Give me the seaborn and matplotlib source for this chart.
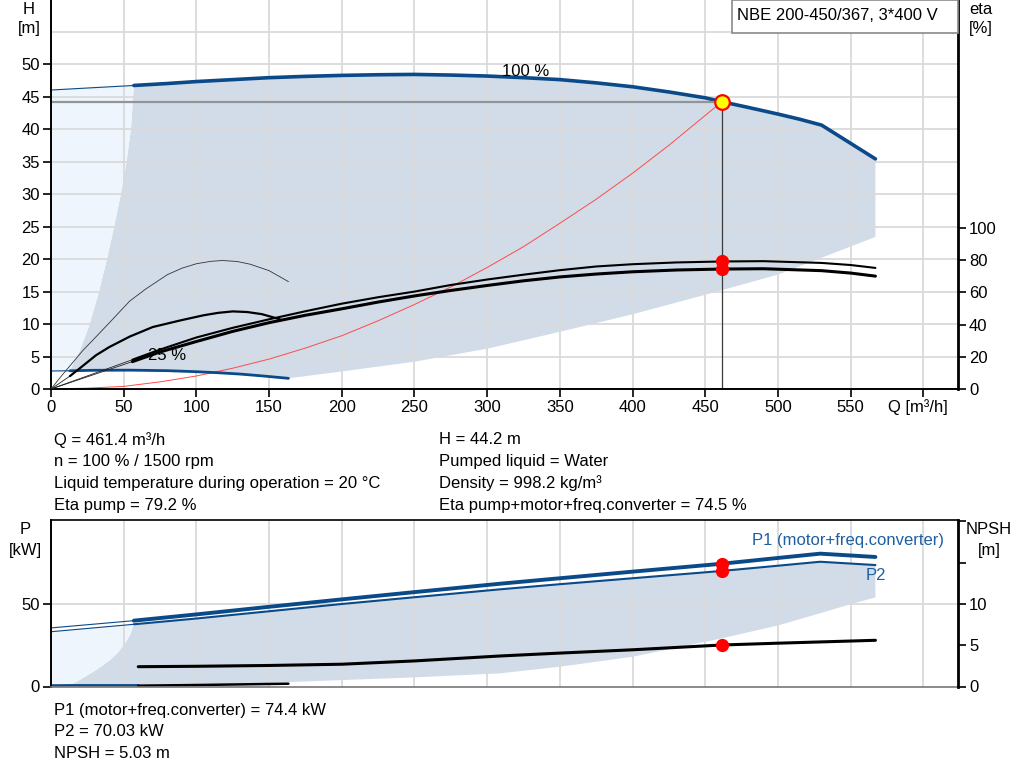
import matplotlib
matplotlib.use("Agg")
import matplotlib.pyplot as plt
import seaborn as sns
import numpy as np
from matplotlib.patches import Rectangle, Polygon

# ---------------- data ----------------
# 100 % speed pump curve H(Q)
q_h100 = [57, 80, 100, 125, 150, 175, 200, 225, 250, 275, 300, 325, 350, 375, 400,
          425, 450, 461.4, 480, 500, 515, 530, 567]
h_h100 = [46.7, 47.0, 47.3, 47.6, 47.9, 48.1, 48.25, 48.35, 48.4, 48.3, 48.15, 47.9,
          47.6, 47.1, 46.5, 45.7, 44.8, 44.2, 43.3, 42.3, 41.5, 40.6, 35.4]
q_h100_ext = [0, 57]
h_h100_ext = [46.0, 46.7]

# 25 % speed pump curve H(Q)
q_h25 = [13, 30, 54, 80, 100, 115, 130, 146, 163.3]
h_h25 = [2.8, 2.88, 2.9, 2.82, 2.66, 2.5, 2.3, 2.0, 1.64]
q_h25_ext = [0, 13]
h_h25_ext = [2.77, 2.8]

# system curve
q_sys = [0, 25, 50, 75, 100, 125, 150, 175, 200, 225, 250, 275, 300, 325, 350, 375,
         400, 425, 461.4]
h_sys = [0, 0.13, 0.4, 1.1, 2.0, 3.2, 4.6, 6.3, 8.2, 10.5, 13.0, 15.7, 18.7, 21.9,
         25.5, 29.2, 33.2, 37.5, 44.2]

# operating range lower edge and left edge (H axis)
q_low = [163.3, 200, 250, 300, 350, 400, 450, 500, 567]
h_low = [1.64, 2.7, 4.2, 6.2, 8.8, 11.5, 14.5, 17.6, 23.4]
q_left = [57, 55, 52, 47.9, 43, 38.3, 33, 26.4, 20, 13]
h_left = [46.7, 40, 35, 29.8, 24.5, 19.8, 15, 9.8, 6, 2.8]

# efficiency curves at 100 % speed
q_eta = [56, 75, 100, 125, 150, 175, 200, 225, 250, 275, 300, 325, 350, 375, 400,
         430, 461.4, 490, 530, 550, 567]
eta_pump = [18.2, 24.5, 32.0, 38.0, 43.3, 48.3, 53.0, 57.0, 60.5, 64.6, 68.0, 71.0,
            73.8, 76.1, 77.5, 78.6, 79.2, 79.4, 78.3, 77.0, 75.2]
eta_tot = [17.0, 23.0, 29.5, 35.8, 41.2, 45.8, 49.8, 54.0, 57.8, 61.2, 64.3, 67.2,
           69.6, 71.4, 72.8, 73.9, 74.5, 74.7, 73.5, 72.0, 70.1]
q_eta_ext = [0, 56]
eta_pump_ext = [0, 18.2]
eta_tot_ext = [0, 17.0]

# efficiency curves at 25 % speed
q_eta25p = [0, 8, 15, 22, 30, 40, 54, 65, 80, 90, 100, 110, 118, 128, 137, 150, 163.3]
eta25_pump = [0, 9, 16.5, 24, 31.5, 41, 54.5, 62, 71, 75, 77.8, 79.3, 79.8, 79.2,
              77.5, 73.5, 66.7]
q_eta25t = [13, 20, 31, 40, 54, 70, 89, 105, 115, 125, 135, 145, 157.5]
eta25_tot = [8, 13, 21, 26, 32.5, 38.5, 42.6, 45.8, 47.3, 48.2, 47.8, 46.5, 43.3]
q_eta25t_ext = [0, 13]
eta25_tot_ext = [0, 8]

# power curves
q_p = [57, 100, 150, 200, 250, 309, 350, 400, 461.4, 500, 529, 567]
p1 = [39.9, 43.7, 48.3, 52.8, 57.2, 62.3, 65.6, 69.6, 74.4, 77.9, 80.5, 78.5]
p2 = [37.7, 41.2, 45.6, 50.0, 54.1, 58.9, 62.0, 65.6, 70.03, 73.2, 75.6, 73.6]
q_p_ext = [0, 57]
p1_ext = [35.5, 39.9]
p2_ext = [33.2, 37.7]

# power range lower / left edge
q_plow = [567, 549.5, 529, 500, 461.4, 430, 400, 350, 309, 250, 200, 150, 100, 60]
p_plow = [54, 49.8, 44.4, 37, 29.2, 23.5, 18, 12, 8, 5.5, 3.9, 2.2, 1.1, 0.5]
q_pleft = [11, 17, 23.4, 32, 40.6, 46, 51, 54.5, 57]
p_pleft = [0.5, 2.5, 5.9, 10.5, 16, 20.5, 26.3, 31.5, 37.7]

# 25 % speed power / npsh near bottom
q_p25 = [0, 13, 60]
p_p25 = [0.6, 0.7, 0.7]
q_k25 = [60, 100, 163.3]
p_k25 = [0.5, 0.9, 1.7]

# NPSH
q_npsh = [60, 100, 150, 200, 250, 309, 350, 400, 461.4, 500, 567]
npsh = [2.4, 2.45, 2.55, 2.7, 3.1, 3.7, 4.05, 4.45, 5.03, 5.25, 5.6]

# duty point
q_duty = 461.4
h_duty = 44.2
eta_duty = [79.2, 74.5]
p_duty = [74.4, 70.03]
npsh_duty = 5.03

x_ticks = list(range(0, 601, 50))
x_ticklabels = [str(v) for v in range(0, 551, 50)] + [""]
h_ticks = list(range(0, 51, 5))
eta_ticks = list(range(0, 101, 20))
p_ticks = [0, 50]
npsh_ticks = [0, 5, 10, 15, 20]
npsh_ticklabels = ["0", "5", "10", "", ""]

info_left = ["Q = 461.4 m³/h", "n = 100 % / 1500 rpm",
             "Liquid temperature during operation = 20 °C", "Eta pump = 79.2 %"]
info_right = ["H = 44.2 m", "Pumped liquid = Water", "Density = 998.2 kg/m³",
              "Eta pump+motor+freq.converter = 74.5 %"]
info_bottom = ["P1 (motor+freq.converter) = 74.4 kW", "P2 = 70.03 kW", "NPSH = 5.03 m"]
title_box = "NBE 200-450/367, 3*400 V"

# ---------------- style ----------------
sns.set_theme(style="white")
plt.rcParams['font.family'] = ['Liberation Sans', 'DejaVu Sans']
plt.rcParams['axes.axisbelow'] = 'line'
for k in ['text.color', 'xtick.color', 'ytick.color', 'axes.labelcolor']:
    plt.rcParams[k] = 'black'

FS = 12
BLUE = '#0b4a88'
FILL = '#d1dce8'
LIGHT = '#eef5fc'
GRID = '#dadada'

W, HH = 1024, 781
fig = plt.figure(figsize=(10.24, 7.81), dpi=100)


def rect(l, t, r, b):
    return [l / W, 1 - b / HH, (r - l) / W, (b - t) / HH]


ax = fig.add_axes(rect(51, 0, 958, 389))
axe = ax.twinx()
bx = fig.add_axes(rect(51, 520, 958, 686.5))
bxn = bx.twinx()


def line(a, x, y, color, lw, z=2):
    sns.lineplot(x=x, y=y, ax=a, color=color, linewidth=lw, sort=False,
                 estimator=None, zorder=z)


# ---------------- top chart ----------------
grey_poly = (list(zip(q_h100, h_h100)) + list(zip(q_low[::-1], h_low[::-1])) +
             list(zip(q_h25[::-1], h_h25[::-1])) + list(zip(q_left[::-1], h_left[::-1])))
ax.add_patch(Polygon(grey_poly, closed=True, facecolor=FILL, edgecolor='none', zorder=1))
light_poly = ([(q_h25_ext[0], h_h25_ext[0]), (q_h100_ext[0], h_h100_ext[0]),
               (q_h100_ext[1], h_h100_ext[1])] + list(zip(q_left, h_left)))
ax.add_patch(Polygon(light_poly, closed=True, facecolor=LIGHT, edgecolor='none', zorder=1))

for v in x_ticks:
    ax.axvline(v, color=GRID, lw=1.3, zorder=1.5)
for v in h_ticks + [55]:
    ax.axhline(v, color=GRID, lw=1.3, zorder=1.5)

line(ax, q_sys, h_sys, '#ff4a4a', 0.7)
line(ax, q_h100_ext, h_h100_ext, BLUE, 0.8)
line(ax, q_h100, h_h100, BLUE, 2.6)
line(ax, q_h25_ext, h_h25_ext, BLUE, 0.8)
line(ax, q_h25, h_h25, BLUE, 2.0)
ax.plot([0, q_duty], [h_duty, h_duty], color='#90959b', lw=1.6, zorder=2.5)
ax.plot([q_duty, q_duty], [h_duty, 0], color='#3a3a3a', lw=0.9, zorder=2.5)

ax.text(310, 48.8, "100 %", fontsize=FS, ha='left', va='center', zorder=3)
ax.text(66.7, 5.2, "25 %", fontsize=FS, ha='left', va='center', zorder=1.8)

# efficiency (twin)
line(axe, q_eta_ext, eta_pump_ext, '#222222', 0.6)
line(axe, q_eta_ext, eta_tot_ext, '#222222', 0.6)
line(axe, q_eta25p, eta25_pump, '#333333', 0.6)
line(axe, q_eta25t_ext, eta25_tot_ext, '#222222', 0.6)
line(axe, q_eta25t, eta25_tot, 'black', 1.6)
line(axe, q_eta, eta_pump, 'black', 1.5)
line(axe, q_eta, eta_tot, 'black', 2.2)
axe.plot([q_duty] * 2, eta_duty, 'o', ms=8.5, color='#ff0000', zorder=5)
axe.plot([q_duty], [h_duty * 241.6 / 59.85], 'o', ms=10.5, mfc='#ffff00',
         mec='#ff0000', mew=1.6, zorder=6)

ax.set_xlim(0, 623.8)
ax.set_ylim(0, 59.85)
axe.set_ylim(0, 241.6)
ax.set_xticks(x_ticks)
ax.set_xticklabels(x_ticklabels)
ax.set_yticks(h_ticks)
ax.set_yticklabels([str(v) for v in h_ticks])
axe.set_yticks(eta_ticks)
axe.set_yticklabels([str(v) for v in eta_ticks])
ax.tick_params(axis='both', which='both', direction='out', length=6, width=1.2,
               labelsize=FS, bottom=True, left=True, pad=2)
axe.tick_params(axis='y', direction='out', length=6, width=1.2, labelsize=FS,
                right=True, pad=2)
for s in ['top', 'right']:
    ax.spines[s].set_visible(False)
for s in ['top', 'left', 'bottom']:
    axe.spines[s].set_visible(False)
ax.spines['left'].set_color('black')
ax.spines['left'].set_linewidth(1.4)
ax.spines['bottom'].set_color('black')
ax.spines['bottom'].set_linewidth(1.4)
axe.spines['right'].set_color('black')
axe.spines['right'].set_linewidth(2.0)
ax.set_xlabel("")
ax.set_ylabel("")
axe.set_ylabel("")

# title box
axe.add_patch(Rectangle(((732 - 51) / 907, 1 - 33 / 389), 226 / 907, 33 / 389,
                        transform=axe.transAxes, facecolor='white', edgecolor='#8a8a8a',
                        lw=1.2, zorder=10, clip_on=False))
axe.text((737 - 51) / 907, 1 - 15 / 389, title_box, transform=axe.transAxes,
         fontsize=FS, ha='left', va='center', zorder=11)

# axis titles
fig.text(29 / W, 1 - 10 / HH, "H", fontsize=FS, ha='center', va='center')
fig.text(29 / W, 1 - 29 / HH, "[m]", fontsize=FS, ha='center', va='center')
fig.text(981 / W, 1 - 10 / HH, "eta", fontsize=FS, ha='center', va='center')
fig.text(981 / W, 1 - 29 / HH, "[%]", fontsize=FS, ha='center', va='center')
fig.text(888 / W, 1 - 407 / HH, "Q [m³/h]", fontsize=FS, ha='left', va='center')

# info texts
for i, s in enumerate(info_left):
    fig.text(54 / W, 1 - (440 + 21.7 * i) / HH, s, fontsize=FS, ha='left', va='center')
for i, s in enumerate(info_right):
    fig.text(439 / W, 1 - (440 + 21.7 * i) / HH, s, fontsize=FS, ha='left', va='center')
for i, s in enumerate(info_bottom):
    fig.text(54 / W, 1 - (710 + 21.7 * i) / HH, s, fontsize=FS, ha='left', va='center')

# ---------------- bottom chart ----------------
pgrey = (list(zip(q_p, p2)) + list(zip(q_plow, p_plow)) +
         list(zip(q_pleft, p_pleft)))
bx.add_patch(Polygon(pgrey, closed=True, facecolor=FILL, edgecolor='none', zorder=1))
plight = ([(0, 0.5), (q_p_ext[0], p2_ext[0]), (q_p_ext[1], p2_ext[1])] +
          list(zip(q_pleft[::-1], p_pleft[::-1])))
bx.add_patch(Polygon(plight, closed=True, facecolor=LIGHT, edgecolor='none', zorder=1))
for v in x_ticks:
    bx.axvline(v, color=GRID, lw=1.3, zorder=1.5)
bx.axhline(50, color=GRID, lw=1.3, zorder=1.5)

line(bx, q_p_ext, p1_ext, BLUE, 0.8)
line(bx, q_p_ext, p2_ext, BLUE, 0.8)
line(bx, q_p, p1, BLUE, 2.8)
line(bx, q_p, p2, BLUE, 1.5)
line(bx, q_p25, p_p25, BLUE, 1.8)
line(bx, q_k25, p_k25, 'black', 1.8)
bx.plot([q_duty] * 2, p_duty, 'o', ms=8.5, color='#ff0000', zorder=5)
bx.text(482, 88.2, "P1 (motor+freq.converter)", fontsize=FS, color='#1f5f9f',
        ha='left', va='center', zorder=3)
bx.text(560.5, 67, "P2", fontsize=FS, color='#1f5f9f', ha='left', va='center', zorder=3)

line(bxn, q_npsh, npsh, 'black', 2.2)
bxn.plot([q_duty], [npsh_duty], 'o', ms=8.5, color='#ff0000', zorder=5)

bx.set_xlim(0, 623.8)
bx.set_ylim(0, 100.9)
bxn.set_ylim(0, 20.18)
bx.set_xticks(x_ticks)
bx.set_xticklabels([])
bx.set_yticks(p_ticks)
bx.set_yticklabels([str(v) for v in p_ticks])
bxn.set_yticks(npsh_ticks)
bxn.set_yticklabels(npsh_ticklabels)
bx.tick_params(axis='x', length=0)
bx.tick_params(axis='y', direction='out', length=6, width=1.2, labelsize=FS, left=True, pad=2)
bxn.tick_params(axis='y', direction='out', length=6, width=1.2, labelsize=FS, right=True, pad=2)
bx.spines['right'].set_visible(False)
for s in ['top', 'left', 'bottom']:
    bxn.spines[s].set_visible(False)
bx.spines['top'].set_color('black')
bx.spines['top'].set_linewidth(1.2)
bx.spines['left'].set_color('black')
bx.spines['left'].set_linewidth(1.4)
bx.spines['bottom'].set_color('#777777')
bx.spines['bottom'].set_linewidth(1.2)
bxn.spines['right'].set_color('black')
bxn.spines['right'].set_linewidth(2.0)
bx.set_xlabel("")
bx.set_ylabel("")
bxn.set_ylabel("")

fig.text(25 / W, 1 - 529 / HH, "P", fontsize=FS, ha='center', va='center')
fig.text(25 / W, 1 - 550 / HH, "[kW]", fontsize=FS, ha='center', va='center')
fig.text(989 / W, 1 - 529 / HH, "NPSH", fontsize=FS, ha='center', va='center')
fig.text(989 / W, 1 - 550 / HH, "[m]", fontsize=FS, ha='center', va='center')

fig.savefig("out.png", dpi=100)
